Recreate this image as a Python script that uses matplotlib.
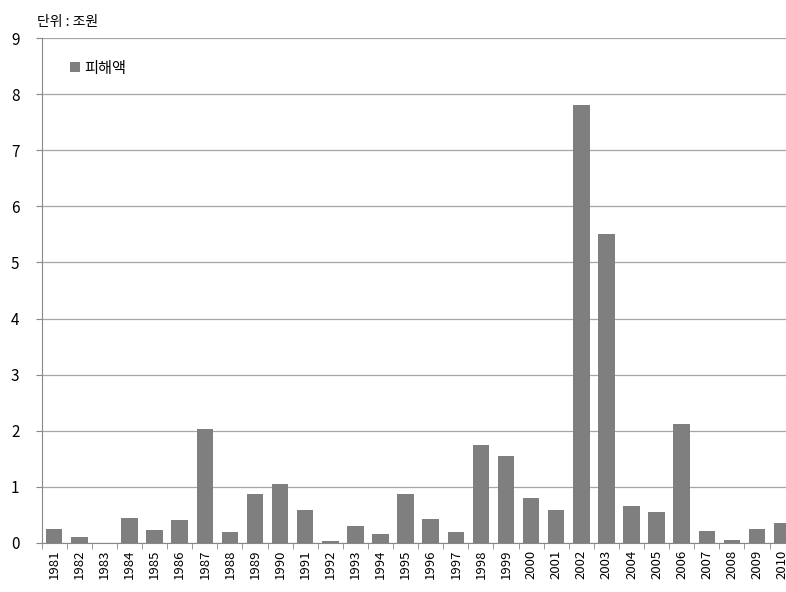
import matplotlib
matplotlib.use('Agg')
import matplotlib.pyplot as plt
import numpy as np

plt.rcParams['font.family'] = ['Noto Sans CJK KR', 'DejaVu Sans']

# 연도별 피해액 (단위: 조원)
years = [str(y) for y in range(1981, 2011)]
damage = [0.24, 0.11, 0.0, 0.44, 0.23, 0.40, 2.03, 0.19, 0.86, 1.05,
          0.58, 0.03, 0.30, 0.16, 0.86, 0.42, 0.19, 1.74, 1.54, 0.79,
          0.58, 7.81, 5.51, 0.65, 0.55, 2.12, 0.21, 0.05, 0.25, 0.35]
yticks = list(range(0, 10))

fig = plt.figure(figsize=(7.86, 5.92), dpi=100)
ax = fig.add_axes([0.053, 0.0833, 0.958, 0.852])

x = np.arange(len(years))
ax.bar(x, damage, width=0.66, color='#7f7f7f', label='피해액', zorder=3)

ax.set_xlim(-0.5, len(years) - 0.5)
ax.set_ylim(0, 9)
ax.set_yticks(yticks)
ax.yaxis.grid(True, color='#a6a6a6', linewidth=0.9, zorder=0)

ax.set_xticks(x)
ax.set_xticklabels(years, rotation=90, fontsize=9.5)
ax.set_xticks(np.arange(len(years) + 1) - 0.5, minor=True)
ax.tick_params(axis='x', which='major', length=0, pad=5)
ax.tick_params(axis='x', which='minor', length=4, color='#888888')
ax.tick_params(axis='y', length=4, color='#888888', labelsize=11, pad=12)

for s in ['top', 'right']:
    ax.spines[s].set_visible(False)
for s in ['left', 'bottom']:
    ax.spines[s].set_color('#888888')

ax.legend(loc='upper left', bbox_to_anchor=(0.02, 0.985), frameon=False,
          fontsize=11, handlelength=0.6, handleheight=0.6, handletextpad=0.3)

fig.text(0.047, 0.963, '단위 : 조원', fontsize=10, ha='left', va='center')

fig.savefig('out.png', dpi=100)
